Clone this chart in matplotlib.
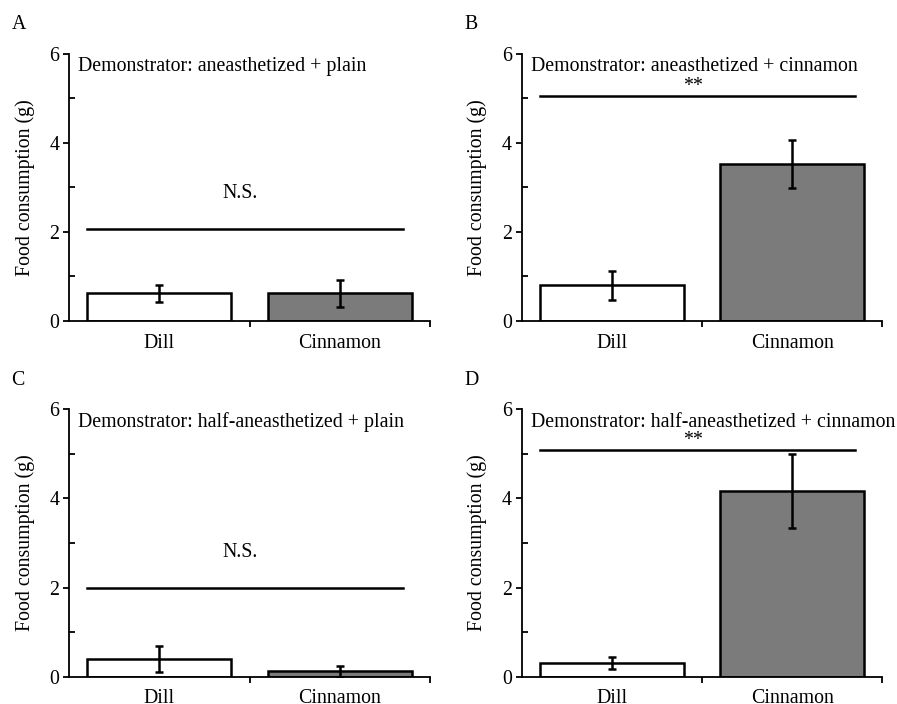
import matplotlib
matplotlib.use('Agg')
import matplotlib.pyplot as plt
from matplotlib.ticker import FixedLocator

plt.rcParams['font.family'] = ['Liberation Serif', 'DejaVu Serif']

# data
foods = ['Dill', 'Cinnamon']
panel_tags = ['A', 'B', 'C', 'D']
titles = ['Demonstrator: aneasthetized + plain',
          'Demonstrator: aneasthetized + cinnamon',
          'Demonstrator: half-aneasthetized + plain',
          'Demonstrator: half-aneasthetized + cinnamon']
means_a = [0.62, 0.62]
errs_a = [0.19, 0.30]
means_b = [0.80, 3.52]
errs_b = [0.33, 0.53]
means_c = [0.40, 0.12]
errs_c = [0.29, 0.12]
means_d = [0.31, 4.17]
errs_d = [0.14, 0.83]
sig_labels = ['N.S.', '**', 'N.S.', '**']
sig_line_y = [2.06, 5.05, 2.0, 5.08]
sig_text_y = [2.87, 5.25, 2.78, 5.29]

bar_colors = ['white', '#7b7b7b']

# axes boxes [left, bottom, width, height] in figure fraction
boxes = [[0.0769, 0.544, 0.4025, 0.380],
         [0.5816, 0.544, 0.4020, 0.380],
         [0.0769, 0.0388, 0.4025, 0.380],
         [0.5816, 0.0388, 0.4020, 0.380]]

fig = plt.figure(figsize=(8.97, 7.04), dpi=100)

all_means = [means_a, means_b, means_c, means_d]
all_errs = [errs_a, errs_b, errs_c, errs_d]

fs = 14.3

for i in range(4):
    ax = fig.add_axes(boxes[i])
    x = list(range(len(foods)))
    ax.bar(x, all_means[i], width=0.8, color=bar_colors, edgecolor='black',
           linewidth=1.8, zorder=2)
    ax.errorbar(x, all_means[i], yerr=all_errs[i], fmt='none', ecolor='black',
                elinewidth=1.8, capsize=3, capthick=1.8, zorder=3)
    ax.set_xlim(-0.5, 1.5)
    ax.set_ylim(0, 6)
    ax.spines['top'].set_visible(False)
    ax.spines['right'].set_visible(False)
    ax.spines['left'].set_linewidth(1.3)
    ax.spines['bottom'].set_linewidth(1.3)

    # y ticks: major out, minor in
    ax.set_yticks([0, 2, 4, 6])
    ax.yaxis.set_minor_locator(FixedLocator([1, 3, 5, 6]))
    ax.tick_params(axis='y', which='major', direction='out', length=4,
                   width=1.3, labelsize=fs, pad=3)
    ax.tick_params(axis='y', which='minor', direction='in', length=4, width=1.3)

    # x ticks: labels at bar centres, ticks in; boundary ticks out
    ax.set_xticks(x)
    ax.set_xticklabels(foods)
    ax.xaxis.set_minor_locator(FixedLocator([0.5, 1.5]))
    ax.tick_params(axis='x', which='major', direction='in', length=5,
                   width=1.3, labelsize=fs, pad=9)
    ax.tick_params(axis='x', which='minor', direction='out', length=4, width=1.3)

    ax.set_ylabel('Food consumption (g)', fontsize=fs)
    ax.yaxis.set_label_coords(-0.095, 0.5)

    # condition text
    ax.text(-0.45, 5.7, titles[i], fontsize=fs, ha='left', va='center',
            clip_on=False)
    # significance bar
    ax.plot([-0.40, 1.35], [sig_line_y[i], sig_line_y[i]], color='black',
            linewidth=1.8, zorder=3)
    ax.text(0.45, sig_text_y[i], sig_labels[i], fontsize=fs, ha='center',
            va='center')

    # panel letter
    pos = ax.get_position()
    fig.text(pos.x0 - 0.064, pos.y1 + 0.041, panel_tags[i], fontsize=fs,
             ha='left', va='center')

fig.savefig('out.png', dpi=100)
